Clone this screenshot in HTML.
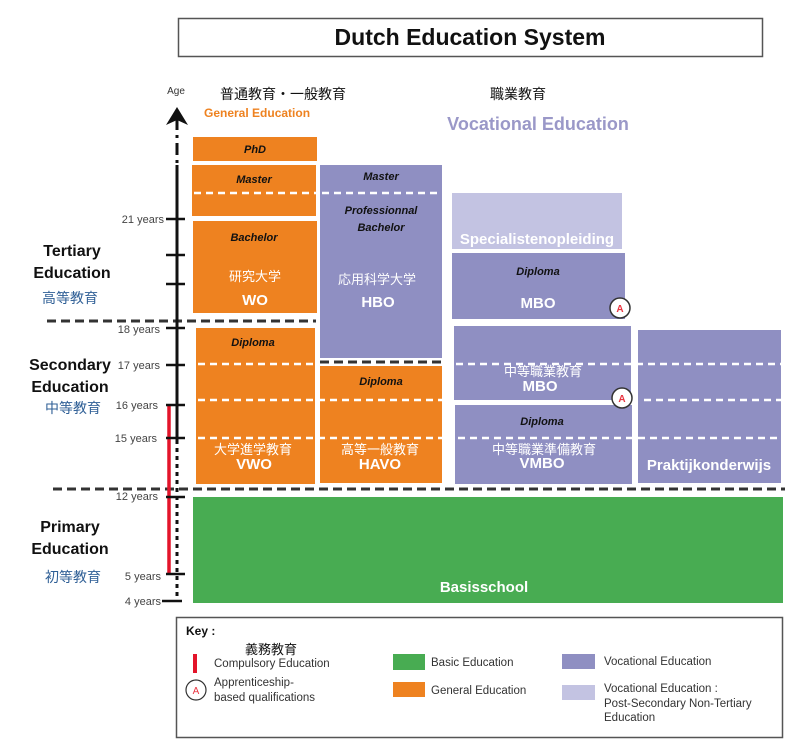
<!DOCTYPE html>
<html><head><meta charset="utf-8"><style>
html,body{margin:0;padding:0;background:#fff;}
svg{display:block;}
text{font-family:"Liberation Sans","Noto Sans CJK JP",sans-serif;}
.b{font-weight:bold;}
.i{font-style:italic;font-weight:bold;font-size:11px;fill:#111;}
.w{fill:#fff;font-weight:bold;font-size:15px;}
.wj{fill:#fff;font-size:13px;}
.yr{font-size:11px;fill:#444;text-anchor:end;}
.wd{stroke:#fff;stroke-width:2.5;stroke-dasharray:7,5;}
.bd{stroke:#333;stroke-width:3;stroke-dasharray:9,5;}
.k{font-size:11.5px;fill:#333;}
</style></head><body>
<svg width="800" height="746" viewBox="0 0 800 746" xmlns="http://www.w3.org/2000/svg">
<!-- title -->
<rect x="178.5" y="18.5" width="584" height="38" fill="#fff" stroke="#555" stroke-width="1.5"/>
<text x="470" y="45" text-anchor="middle" class="b" font-size="23" fill="#111">Dutch Education System</text>

<!-- headers -->
<text x="176" y="94" text-anchor="middle" font-size="10" fill="#333">Age</text>
<text x="220" y="99" font-size="14" fill="#111">普通教育・一般教育</text>
<text x="204" y="117" class="b" font-size="12" fill="#ee8220">General Education</text>
<text x="490" y="99" font-size="14" fill="#111">職業教育</text>
<text x="538" y="130" text-anchor="middle" class="b" font-size="18" fill="#9a98c8">Vocational Education</text>

<!-- left labels -->
<g text-anchor="middle" class="b" font-size="16" fill="#111">
<text x="72" y="256">Tertiary</text><text x="72" y="278">Education</text>
<text x="70" y="370">Secondary</text><text x="70" y="392">Education</text>
<text x="70" y="532">Primary</text><text x="70" y="554">Education</text>
</g>
<g text-anchor="middle" font-size="14" fill="#2f5f96">
<text x="70" y="303">高等教育</text><text x="73" y="413">中等教育</text><text x="73" y="582">初等教育</text>
</g>

<!-- boxes orange -->
<rect x="193" y="137" width="124" height="24" fill="#ee8220"/>
<text x="255" y="153" text-anchor="middle" class="i">PhD</text>
<rect x="192" y="165" width="124" height="51" fill="#ee8220"/>
<text x="254" y="183" text-anchor="middle" class="i">Master</text>
<line x1="194" y1="193" x2="316" y2="193" class="wd"/>
<rect x="193" y="221" width="124" height="92" fill="#ee8220"/>
<text x="254" y="241" text-anchor="middle" class="i">Bachelor</text>
<text x="255" y="281" text-anchor="middle" class="wj">研究大学</text>
<text x="255" y="305" text-anchor="middle" class="w">WO</text>

<rect x="196" y="328" width="119" height="156" fill="#ee8220"/>
<text x="253" y="346" text-anchor="middle" class="i">Diploma</text>
<rect x="320" y="366" width="122" height="117" fill="#ee8220"/>
<text x="381" y="385" text-anchor="middle" class="i">Diploma</text>
<line x1="198" y1="364" x2="315" y2="364" class="wd"/>
<line x1="198" y1="400" x2="442" y2="400" class="wd"/>
<line x1="198" y1="438" x2="442" y2="438" class="wd"/>
<text x="253" y="454" text-anchor="middle" class="wj">大学進学教育</text>
<text x="254" y="469" text-anchor="middle" class="w">VWO</text>
<text x="380" y="454" text-anchor="middle" class="wj">高等一般教育</text>
<text x="380" y="469" text-anchor="middle" class="w">HAVO</text>

<!-- HBO -->
<rect x="320" y="165" width="122" height="193" fill="#8f8fc2"/>
<text x="381" y="180" text-anchor="middle" class="i">Master</text>
<line x1="322" y1="193" x2="442" y2="193" class="wd"/>
<text x="381" y="214" text-anchor="middle" class="i">Professionnal</text>
<text x="381" y="231" text-anchor="middle" class="i">Bachelor</text>
<text x="377" y="284" text-anchor="middle" class="wj">応用科学大学</text>
<text x="378" y="307" text-anchor="middle" class="w">HBO</text>
<line x1="320" y1="362" x2="442" y2="362" class="bd"/>

<!-- vocational -->
<rect x="452" y="193" width="170" height="56" fill="#c3c3e2"/>
<text x="537" y="244" text-anchor="middle" class="w" font-size="14">Specialistenopleiding</text>
<rect x="452" y="253" width="173" height="66" fill="#8f8fc2"/>
<text x="538" y="275" text-anchor="middle" class="i">Diploma</text>
<text x="538" y="308" text-anchor="middle" class="w">MBO</text>
<rect x="454" y="326" width="177" height="74" fill="#8f8fc2"/>
<rect x="455" y="405" width="177" height="79" fill="#8f8fc2"/>
<rect x="638" y="330" width="143" height="153" fill="#8f8fc2"/>
<line x1="456" y1="364" x2="781" y2="364" class="wd"/>
<line x1="644" y1="400" x2="781" y2="400" class="wd"/>
<line x1="458" y1="438" x2="781" y2="438" class="wd"/>
<text x="543" y="376" text-anchor="middle" class="wj">中等職業教育</text>
<text x="540" y="391" text-anchor="middle" class="w">MBO</text>
<text x="542" y="425" text-anchor="middle" class="i">Diploma</text>
<text x="544" y="454" text-anchor="middle" class="wj">中等職業準備教育</text>
<text x="542" y="468" text-anchor="middle" class="w">VMBO</text>
<text x="709" y="470" text-anchor="middle" class="w" font-size="14">Praktijkonderwijs</text>
<g font-size="10" text-anchor="middle" fill="#e8333f" class="b">
<circle cx="620" cy="308" r="10" fill="#fff" stroke="#333" stroke-width="1.5"/><text x="620" y="312">A</text>
<circle cx="622" cy="398" r="10" fill="#fff" stroke="#333" stroke-width="1.5"/><text x="622" y="402">A</text>
</g>

<!-- green -->
<rect x="193" y="497" width="590" height="106" fill="#48ac52"/>
<text x="484" y="592" text-anchor="middle" class="w">Basisschool</text>

<!-- black dashed separators -->
<line x1="47" y1="321" x2="316" y2="321" class="bd"/>
<line x1="53" y1="489" x2="785" y2="489" class="bd"/>

<!-- axis -->
<polygon points="177,107 166,125 177,120 188,125" fill="#111"/>
<line x1="177" y1="118" x2="177" y2="165" stroke="#111" stroke-width="3" stroke-dasharray="12,5,3,5"/>
<line x1="177" y1="165" x2="177" y2="440" stroke="#111" stroke-width="3"/>
<line x1="177" y1="440" x2="177" y2="602" stroke="#111" stroke-width="3" stroke-dasharray="4,4"/>
<line x1="169" y1="405" x2="169" y2="574" stroke="#e3142a" stroke-width="3.5"/>
<g stroke="#111" stroke-width="2.5">
<line x1="166" y1="219" x2="185" y2="219"/><line x1="166" y1="255" x2="185" y2="255"/><line x1="166" y1="284" x2="185" y2="284"/>
<line x1="166" y1="328" x2="185" y2="328"/><line x1="166" y1="365" x2="185" y2="365"/><line x1="166" y1="405" x2="185" y2="405"/>
<line x1="166" y1="438" x2="185" y2="438"/><line x1="166" y1="497" x2="185" y2="497"/><line x1="166" y1="574" x2="185" y2="574"/>
<line x1="162" y1="601" x2="182" y2="601"/>
</g>
<text x="164" y="223" class="yr">21 years</text>
<text x="160" y="333" class="yr">18 years</text>
<text x="160" y="369" class="yr">17 years</text>
<text x="158" y="409" class="yr">16 years</text>
<text x="157" y="442" class="yr">15 years</text>
<text x="158" y="500" class="yr">12 years</text>
<text x="161" y="580" class="yr">5 years</text>
<text x="161" y="605" class="yr">4 years</text>

<!-- key -->
<rect x="176.5" y="617.5" width="606" height="120" fill="#fff" stroke="#555" stroke-width="1.5"/>
<text x="186" y="635" class="b" font-size="12" fill="#111">Key :</text>
<text x="245" y="654" font-size="13" fill="#111">義務教育</text>
<rect x="193" y="654" width="4" height="19" fill="#e3142a"/>
<text x="214" y="667" class="k">Compulsory Education</text>
<circle cx="196" cy="690" r="10" fill="#fff" stroke="#333" stroke-width="1.2"/>
<text x="196" y="694" text-anchor="middle" font-size="10" fill="#e8333f">A</text>
<text x="214" y="686" class="k">Apprenticeship-</text>
<text x="214" y="701" class="k">based qualifications</text>
<rect x="393" y="654" width="32" height="16" fill="#48ac52"/>
<text x="431" y="666" class="k">Basic Education</text>
<rect x="393" y="682" width="32" height="15" fill="#ee8220"/>
<text x="431" y="694" class="k">General Education</text>
<rect x="562" y="654" width="33" height="15" fill="#8f8fc2"/>
<text x="604" y="665" class="k">Vocational Education</text>
<rect x="562" y="685" width="33" height="15" fill="#c3c3e2"/>
<text x="604" y="692" class="k">Vocational Education :</text>
<text x="604" y="707" class="k">Post-Secondary Non-Tertiary</text>
<text x="604" y="721" class="k">Education</text>
</svg>
</body></html>
